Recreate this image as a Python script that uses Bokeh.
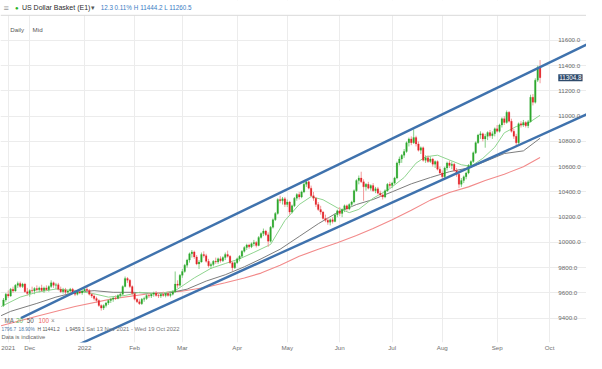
from bokeh.plotting import figure
from bokeh.models import (ColumnDataSource, FixedTicker, Label, Span, BoxAnnotation,
                          NumeralTickFormatter, Range1d)
from bokeh.embed import file_html
from bokeh.resources import INLINE

# ---------------- data (trading-day index, 0 = 1 Dec 2021) ----------------
first_day = -11
open_ = [
    9500, 9545, 9590, 9575, 9630, 9615, 9660, 9675, 9650, 9670, 9610,
    9595, 9620, 9615, 9635, 9625, 9640, 9620, 9640, 9625, 9650, 9680, 9660, 9665, 9630, 9610, 9625, 9605, 9615, 9630, 9600, 9590, 9610, 9600,
    9615, 9630, 9620, 9590, 9575, 9555, 9540, 9500, 9480, 9500, 9520, 9540, 9550, 9560, 9555, 9580, 9590, 9650, 9715, 9700, 9650,
    9595, 9550, 9530, 9515, 9550, 9555, 9580, 9575, 9590, 9600, 9580, 9575, 9590, 9580, 9595, 9580, 9590, 9610, 9670, 9660,
    9740, 9770, 9820, 9860, 9910, 9925, 9885, 9830, 9845, 9905, 9895, 9850, 9815, 9825, 9850, 9845, 9870, 9855, 9880, 9905, 9890, 9840, 9800,
    9840, 9870, 9890, 9930, 9960, 9980, 9965, 9990, 10000, 9975, 10040, 10070, 10090, 10060, 10010, 10120, 10180, 10230, 10340, 10330, 10345,
    10300, 10320, 10240, 10290, 10350, 10380, 10360, 10400, 10460, 10480, 10430, 10370, 10350, 10300, 10260, 10240, 10190, 10175, 10160, 10180, 10165, 10220,
    10250, 10230, 10260, 10290, 10265, 10300, 10320, 10410, 10490, 10510, 10480, 10440, 10460, 10430, 10450, 10410, 10425, 10390, 10375, 10360, 10410, 10460,
    10450, 10470, 10510, 10630, 10660, 10690, 10720, 10790, 10820, 10790, 10830, 10780, 10730, 10750, 10650, 10670, 10640, 10660, 10620, 10640, 10580,
    10550, 10520, 10590, 10630, 10610, 10620, 10570, 10540, 10460, 10490, 10520, 10550, 10610, 10640, 10710, 10790, 10850, 10860, 10820, 10840, 10870, 10845, 10860,
    10900, 10880, 10930, 10980, 10950, 11030, 10960, 10880, 10840, 10790, 10940, 10930, 10950, 10925, 10955, 11150, 11110, 11285, 11385,
]
high = [
    9560, 9600, 9620, 9640, 9650, 9670, 9690, 9690, 9680, 9680, 9640,
    9630, 9650, 9645, 9660, 9650, 9665, 9650, 9660, 9660, 9700, 9690, 9680, 9680, 9650, 9640, 9640, 9625, 9640, 9640, 9625, 9620, 9630, 9625,
    9640, 9650, 9630, 9600, 9590, 9570, 9550, 9510, 9510, 9530, 9550, 9560, 9570, 9580, 9590, 9600, 9660, 9730, 9725, 9710, 9660,
    9600, 9560, 9550, 9560, 9570, 9590, 9600, 9600, 9610, 9615, 9600, 9600, 9610, 9600, 9610, 9600, 9620, 9770, 9700, 9750,
    9790, 9830, 9870, 9920, 9940, 9935, 9900, 9860, 9920, 9930, 9910, 9870, 9840, 9860, 9880, 9880, 9890, 9890, 9920, 9935, 9900, 9850, 9850,
    9880, 9900, 9940, 9970, 9990, 9990, 10000, 10020, 10010, 10050, 10080, 10110, 10100, 10080, 10130, 10190, 10240, 10350, 10370, 10360, 10360,
    10340, 10330, 10300, 10360, 10390, 10400, 10410, 10480, 10495, 10490, 10450, 10400, 10360, 10320, 10290, 10250, 10220, 10200, 10190, 10200, 10230, 10260,
    10280, 10270, 10300, 10300, 10310, 10330, 10420, 10500, 10530, 10560, 10500, 10470, 10480, 10460, 10470, 10440, 10440, 10410, 10390, 10420, 10470, 10480,
    10480, 10520, 10640, 10680, 10700, 10740, 10800, 10830, 10840, 10895, 10845, 10800, 10760, 10760, 10690, 10690, 10680, 10670, 10650, 10650, 10600,
    10570, 10600, 10640, 10650, 10640, 10630, 10590, 10550, 10510, 10530, 10560, 10620, 10650, 10720, 10800, 10860, 10880, 10870, 10860, 10880, 10890, 10880, 10910,
    10930, 10940, 10990, 11000, 11045, 11040, 10980, 10900, 10860, 10950, 10960, 10970, 10960, 10970, 11170, 11175, 11300, 11400, 11444.2,
]
low = [
    9490, 9530, 9560, 9570, 9600, 9610, 9640, 9640, 9640, 9600, 9580,
    9570, 9600, 9590, 9610, 9605, 9610, 9600, 9615, 9610, 9640, 9640, 9630, 9620, 9600, 9595, 9590, 9580, 9600, 9595, 9575, 9580, 9590, 9585,
    9600, 9610, 9580, 9560, 9540, 9520, 9490, 9460, 9465, 9485, 9505, 9520, 9530, 9545, 9550, 9560, 9585, 9645, 9680, 9640, 9580,
    9540, 9520, 9505, 9505, 9530, 9545, 9560, 9560, 9570, 9570, 9560, 9560, 9570, 9565, 9570, 9565, 9580, 9600, 9640, 9650,
    9720, 9760, 9800, 9840, 9880, 9870, 9820, 9790, 9840, 9880, 9840, 9800, 9790, 9810, 9830, 9830, 9840, 9845, 9860, 9880, 9830, 9775, 9790,
    9830, 9850, 9880, 9920, 9940, 9950, 9955, 9970, 9960, 9970, 10030, 10050, 10050, 9965, 10000, 10110, 10170, 10220, 10310, 10300, 10280,
    10280, 10220, 10230, 10280, 10330, 10340, 10350, 10390, 10440, 10420, 10360, 10330, 10280, 10250, 10220, 10180, 10160, 10140, 10135, 10150, 10160, 10200,
    10210, 10200, 10240, 10250, 10255, 10280, 10310, 10400, 10460, 10470, 10330, 10410, 10420, 10410, 10400, 10390, 10380, 10360, 10340, 10350, 10400, 10430,
    10430, 10460, 10500, 10610, 10630, 10670, 10710, 10760, 10770, 10780, 10760, 10720, 10700, 10640, 10630, 10630, 10630, 10600, 10590, 10570, 10540,
    10500, 10505, 10570, 10590, 10580, 10560, 10520, 10430, 10440, 10470, 10500, 10540, 10590, 10630, 10700, 10780, 10820, 10800, 10750, 10810, 10830, 10820, 10840,
    10870, 10870, 10910, 10930, 10940, 10950, 10870, 10820, 10765, 10780, 10910, 10915, 10910, 10905, 10950, 11085, 11100, 11270, 11260.5,
]
close = [
    9545, 9590, 9575, 9630, 9615, 9660, 9675, 9650, 9670, 9610, 9595,
    9620, 9615, 9635, 9625, 9640, 9620, 9640, 9625, 9650, 9680, 9660, 9665, 9630, 9610, 9625, 9605, 9615, 9630, 9600, 9590, 9610, 9600, 9615,
    9630, 9620, 9590, 9575, 9555, 9540, 9500, 9480, 9500, 9520, 9540, 9550, 9560, 9555, 9580, 9590, 9650, 9715, 9700, 9650, 9595,
    9550, 9530, 9515, 9550, 9555, 9580, 9575, 9590, 9600, 9580, 9575, 9590, 9580, 9595, 9580, 9590, 9610, 9670, 9660, 9740,
    9770, 9820, 9860, 9910, 9925, 9885, 9830, 9845, 9905, 9895, 9850, 9815, 9825, 9850, 9845, 9870, 9855, 9880, 9905, 9890, 9840, 9800, 9840,
    9870, 9890, 9930, 9960, 9980, 9965, 9990, 10000, 9975, 10040, 10070, 10090, 10060, 10010, 10120, 10180, 10230, 10340, 10330, 10345, 10300,
    10320, 10240, 10290, 10350, 10380, 10360, 10400, 10460, 10480, 10430, 10370, 10350, 10300, 10260, 10240, 10190, 10175, 10160, 10180, 10165, 10220, 10250,
    10230, 10260, 10290, 10265, 10300, 10320, 10410, 10490, 10510, 10480, 10440, 10460, 10430, 10450, 10410, 10425, 10390, 10375, 10360, 10410, 10460, 10450,
    10470, 10510, 10630, 10660, 10690, 10720, 10790, 10820, 10790, 10830, 10780, 10730, 10750, 10650, 10670, 10640, 10660, 10620, 10640, 10580, 10550,
    10520, 10590, 10630, 10610, 10620, 10570, 10540, 10460, 10490, 10520, 10550, 10610, 10640, 10710, 10790, 10850, 10860, 10820, 10840, 10870, 10845, 10860, 10900,
    10880, 10930, 10980, 10950, 11030, 10960, 10880, 10840, 10790, 10940, 10930, 10950, 10925, 10955, 11150, 11110, 11285, 11385, 11304.8,
]

# moving averages
ma20_day = [-12, -4, 3, 11, 19, 27, 33, 40, 46, 54, 61, 69, 76, 82, 88, 94, 101, 107, 113, 118, 123, 129, 134, 138, 144, 151, 157, 162, 166, 171, 176, 181, 185, 190, 195, 199, 204, 209, 214]
ma20 = [9492, 9567, 9605, 9631, 9618, 9593, 9567, 9580, 9605, 9593, 9618, 9719, 9795, 9833, 9870, 9921, 9984, 10173, 10300, 10363, 10338, 10274, 10236, 10262, 10350, 10426, 10514, 10628, 10678, 10691, 10653, 10615, 10603, 10666, 10754, 10868, 10918, 10944, 11007]
ma50_day = [-12, -8, 3, 11, 19, 27, 35, 43, 50, 58, 66, 74, 82, 90, 97, 105, 113, 121, 129, 137, 144, 152, 160, 168, 176, 184, 191, 199, 207, 214]
ma50 = [9420, 9454, 9517, 9567, 9605, 9618, 9605, 9605, 9598, 9598, 9630, 9694, 9744, 9807, 9870, 9946, 10047, 10148, 10237, 10300, 10340, 10401, 10464, 10514, 10560, 10590, 10641, 10704, 10725, 10825]
ma100_day = [-12, 3, 19, 35, 50, 63, 74, 82, 90, 97, 105, 113, 121, 129, 137, 144, 152, 160, 168, 176, 184, 191, 199, 207, 214]
ma100 = [9340, 9416, 9492, 9555, 9593, 9612, 9645, 9680, 9719, 9757, 9820, 9890, 9946, 9997, 10055, 10110, 10180, 10255, 10335, 10395, 10440, 10490, 10540, 10600, 10672]

# trend channel (start / end)
upper_day = [-3.7, 233.5]
upper_val = [9401, 11567]
lower_day = [18.4, 233.5]
lower_val = [9173, 11014]

month_ticks = [-9, 0, 23, 44, 64, 87, 108, 130, 152, 173, 196, 218]
month_labels = ["2021", "Dec", "2022", "Feb", "Mar", "Apr", "May", "Jun", "Jul", "Aug", "Sep", "Oct"]
price_ticks = [9400, 9600, 9800, 10000, 10200, 10400, 10600, 10800, 11000, 11200, 11400, 11600]
last_price = 11304.8

# ---------------- helpers: reference pixel -> data position ----------------
def X(px):
    return (px - 30) / 2.45


def Y(py):
    return 11600 - (py - 41.7) * 7.576


FONT = "Liberation Sans"

p = figure(width=586, height=353, output_backend="svg", toolbar_location=None,
           x_range=Range1d(X(0), X(602)), y_range=Range1d(Y(357.5), Y(0)),
           y_axis_location="right", min_border_left=0, min_border_right=0,
           min_border_top=0, min_border_bottom=11)
p.outline_line_color = None
p.background_fill_color = "white"
p.border_fill_color = "white"

# axes
xt = FixedTicker(ticks=month_ticks)
p.xaxis.ticker = xt
p.xgrid.ticker = xt
p.xaxis.major_label_overrides = {t: l for t, l in zip(month_ticks, month_labels)}
p.xaxis.axis_line_color = None
p.xaxis.major_tick_line_color = None
p.xaxis.minor_tick_line_color = None
p.xaxis.major_tick_out = 0
p.xaxis.major_tick_in = 0
p.xaxis.minor_tick_out = 0
p.xaxis.major_label_standoff = 1
p.xaxis.major_label_text_font_size = "6.2px"
p.xaxis.major_label_text_color = "#707070"
p.xaxis.major_label_text_font = FONT

yt = FixedTicker(ticks=price_ticks)
p.yaxis.ticker = yt
p.ygrid.ticker = yt
p.yaxis.formatter = NumeralTickFormatter(format="0.0")
p.yaxis.fixed_location = X(571)
p.yaxis.axis_line_color = None
p.yaxis.major_tick_line_color = None
p.yaxis.minor_tick_line_color = None
p.yaxis.major_tick_out = 0
p.yaxis.major_tick_in = 0
p.yaxis.minor_tick_out = 0
p.yaxis.major_label_standoff = 2
p.yaxis.major_label_text_font_size = "6.2px"
p.yaxis.major_label_text_color = "#6a6a6a"
p.yaxis.major_label_text_font = FONT

p.xgrid.grid_line_color = "#ececec"
p.ygrid.grid_line_color = "#ececec"

# moving averages
p.line(ma100_day, ma100, line_color="#f28a8a", line_width=1.1)
p.line(ma50_day, ma50, line_color="#7d7d7d", line_width=1)
p.line(ma20_day, ma20, line_color="#8fd48f", line_width=1)

# candles
day = list(range(first_day, first_day + len(close)))
up = [c >= o for o, c in zip(open_, close)]
src = ColumnDataSource(dict(
    day=day, o=open_, h=high, l=low, c=close,
    top=[max(o, c) for o, c in zip(open_, close)],
    bottom=[min(o, c) for o, c in zip(open_, close)],
    body=["#2ea82e" if u else "#e3262b" for u in up],
    wick=["#86cf86" if u else "#f29a9a" for u in up],
))
p.segment(x0="day", y0="l", x1="day", y1="h", line_color="wick", line_width=1, source=src)
p.vbar(x="day", width=0.7, top="top", bottom="bottom", fill_color="body",
       line_color="body", line_width=0.2, source=src)

# channel lines
p.line(upper_day, upper_val, line_color="#3f72ad", line_width=2.4)
p.line(lower_day, lower_val, line_color="#3f72ad", line_width=2.4)

# header area
p.add_layout(BoxAnnotation(bottom=Y(15.5), fill_color="white", fill_alpha=1.0, line_color=None))
p.add_layout(Span(location=Y(15.5), dimension="width", line_color="#dadada", line_width=1))


def lab(px, py, text, color, size="6.2px", style="normal", **kw):
    p.add_layout(Label(x=X(px), y=Y(py), text=text, text_color=color, text_font=FONT,
                       text_font_size=size, text_font_style=style,
                       text_baseline="middle", text_align="left", **kw))


lab(3, 7.5, "≡", "#9a9a9a", "9px")
lab(15, 7.5, "●", "#27b327", "6px")
lab(22, 7.5, "US Dollar Basket (E1)", "#2b2b2b", "7px")
lab(93, 7.5, "▾", "#555555", "7px")
lab(103, 7.5, "12.3", "#3b7dc4", "6.3px")
lab(117, 7.5, "0.11%", "#3b7dc4", "6.3px")
lab(137, 7.5, "H 11444.2 L 11260.5", "#3b7dc4", "6.3px")

lab(10, 30, "Daily", "#555555", "6.2px")
lab(33, 30, "Mid", "#555555", "6.2px")

# legend rows
lab(4, 334.3, "MA", "#666666", "6.3px")
lab(16, 334.3, "20", "#5cb85c", "6.3px")
lab(27, 334.3, "50", "#555555", "6.3px")
lab(39, 334.3, "100", "#f06464", "6.3px")
lab(52, 334.3, "×", "#888888", "6.3px")

lab(1, 343.7, "1796.7", "#4f79a8", "4.8px")
lab(18.5, 343.7, "18.90%", "#4f79a8", "4.8px")
lab(38, 343.7, "H 11441.2", "#555555", "4.9px")
lab(67, 343.7, "L 9459.1", "#555555", "4.9px")
lab(88, 343.7, "Sat 13 Nov 2021 - Wed 19 Oct 2022", "#777777", "5.8px")
lab(1, 351.3, "Data is indicative", "#666666", "5.8px")

# last price tag
p.add_layout(Label(x=X(573), y=last_price, text=f"{last_price:.1f}", text_color="white",
                   text_font=FONT, text_font_size="6.3px", text_baseline="middle",
                   text_align="left", background_fill_color="#2e4a6b", padding=1))

open("out.html", "w").write(file_html(p, INLINE))
